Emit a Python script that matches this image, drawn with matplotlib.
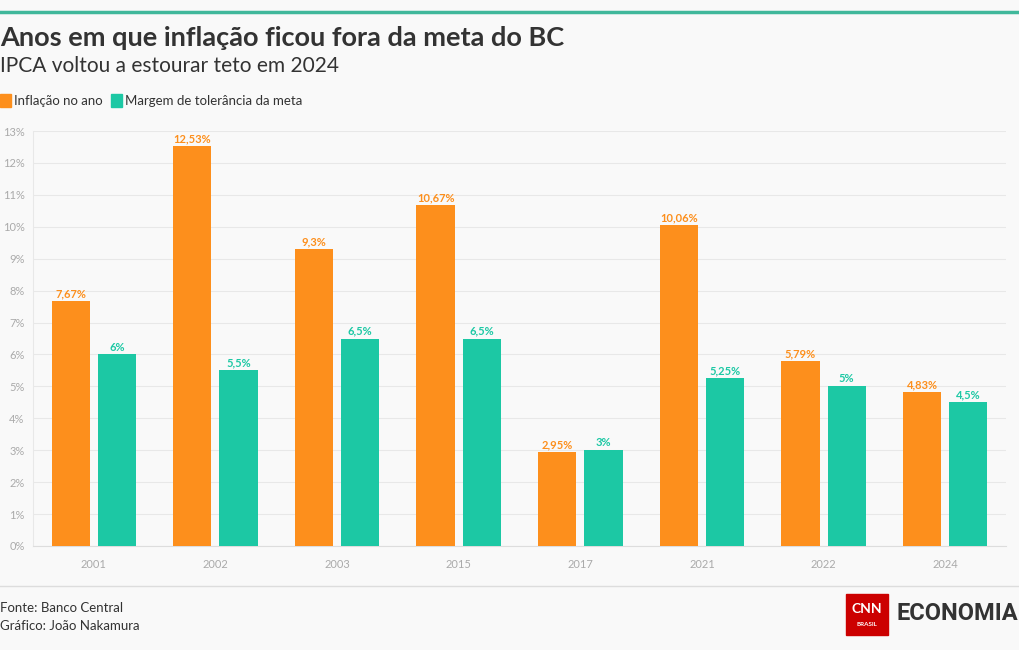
import matplotlib.pyplot as plt
import numpy as np
from matplotlib.patches import Rectangle

plt.rcParams['font.family'] = ['Lato', 'DejaVu Sans']

anos = ['2001', '2002', '2003', '2015', '2017', '2021', '2022', '2024']
inflacao = [7.67, 12.53, 9.3, 10.67, 2.95, 10.06, 5.79, 4.83]
margem = [6, 5.5, 6.5, 6.5, 3, 5.25, 5, 4.5]
yticks = list(range(0, 14))

ORANGE = '#fd8f1c'
TEAL = '#1cc8a4'
BG = '#f9f9f9'


def fmt(v):
    s = f'{v:.2f}'.rstrip('0').rstrip('.')
    return s.replace('.', ',') + '%'


fig = plt.figure(figsize=(10.2, 6.5), dpi=100, facecolor=BG)
W, H = 1020, 650

ax = fig.add_axes([33 / W, 1 - 546 / H, (1006 - 33) / W, (546 - 131) / H])
ax.set_facecolor(BG)

x = np.arange(len(anos))
off = 0.19
bw = 0.315
b1 = ax.bar(x - off, inflacao, bw, color=ORANGE, zorder=3)
b2 = ax.bar(x + off, margem, bw, color=TEAL, zorder=3)

for rect, v in zip(b1, inflacao):
    ax.text(rect.get_x() + rect.get_width() / 2, v + 0.06, fmt(v), ha='center', va='bottom',
            fontsize=8, fontweight='bold', color=ORANGE, zorder=4)
for rect, v in zip(b2, margem):
    ax.text(rect.get_x() + rect.get_width() / 2, v + 0.06, fmt(v), ha='center', va='bottom',
            fontsize=8, fontweight='bold', color=TEAL, zorder=4)

ax.set_xlim(-0.5, len(anos) - 0.5)
ax.set_ylim(0, 13)
ax.set_yticks(yticks)
ax.set_yticklabels([f'{t}%' for t in yticks])
ax.set_xticks(x)
ax.set_xticklabels(anos)
ax.tick_params(axis='both', length=0, labelsize=8, colors='#aaaaaa')
ax.tick_params(axis='x', pad=9)
ax.tick_params(axis='y', pad=6)
ax.grid(axis='y', color='#e8e8e8', linewidth=0.8, zorder=0)
for s in ['top', 'right']:
    ax.spines[s].set_visible(False)
ax.spines['left'].set_color('#e8e8e8')
ax.spines['bottom'].set_color('#dddddd')

# top bar and separator
fig.add_artist(plt.Line2D([0, 1], [1 - 12 / H, 1 - 12 / H], color='#40b89b', linewidth=2.5))
fig.add_artist(plt.Line2D([0, 1], [1 - 586 / H, 1 - 586 / H], color='#dddddd', linewidth=1))

fig.text(0, 1 - 38 / H, 'Anos em que inflação ficou fora da meta do BC', fontsize=19.5,
         fontweight='bold', color='#333333', va='center')
fig.text(0, 1 - 66 / H, 'IPCA voltou a estourar teto em 2024', fontsize=15,
         color='#333333', va='center')

# legend
fig.add_artist(Rectangle((0, 1 - 107 / H), 11 / W, 13 / H, color=ORANGE, transform=fig.transFigure))
fig.text(14 / W, 1 - 101 / H, 'Inflação no ano', fontsize=9.5, color='#333333', va='center')
fig.add_artist(Rectangle((111 / W, 1 - 107 / H), 11 / W, 13 / H, color=TEAL, transform=fig.transFigure))
fig.text(125 / W, 1 - 101 / H, 'Margem de tolerância da meta', fontsize=9.5, color='#333333', va='center')

fig.text(0, 1 - 608 / H, 'Fonte: Banco Central', fontsize=9.5, color='#333333', va='center')
fig.text(0, 1 - 626 / H, 'Gráfico: João Nakamura', fontsize=9.5, color='#333333', va='center')

# logo
fig.add_artist(Rectangle((846 / W, 1 - 635 / H), 42 / W, 41 / H, color='#cc0000', transform=fig.transFigure))
fig.text(867 / W, 1 - 609 / H, 'CNN', fontsize=10, fontweight='bold', color='white', ha='center', va='center')
fig.text(867 / W, 1 - 624 / H, 'BRASIL', fontsize=4.5, fontweight='bold', color='white', ha='center', va='center')
fig.text(897 / W, 1 - 614 / H, 'ECONOMIA', fontsize=17, fontweight='bold', color='#333333',
         va='center', family=['Roboto', 'DejaVu Sans'], stretch='condensed')

fig.savefig('out.png', dpi=100, facecolor=BG)
